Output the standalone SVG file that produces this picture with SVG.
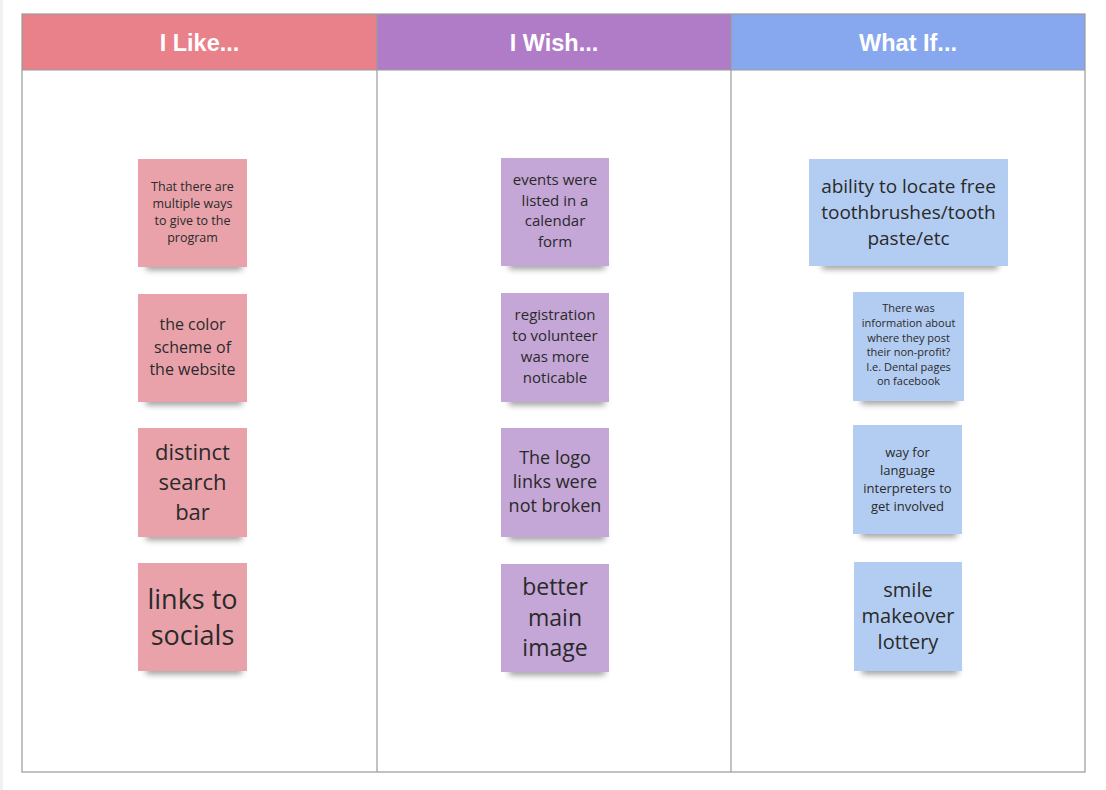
<svg xmlns="http://www.w3.org/2000/svg" width="1106" height="790" viewBox="0 0 1106 790">
  <style>
    .head { font-family: "Liberation Sans", Arial, sans-serif; font-weight: bold; font-size: 23.5px; fill: #ffffff; text-anchor: middle; }
    .note { font-family: "Open Sans", "Noto Sans", sans-serif; fill: #2a2a2a; text-anchor: middle; }
    .frame { fill: none; stroke: #9a9a9a; stroke-width: 1.2; }
    .pink { fill: #e9a2aa; }
    .purple { fill: #c4a6d7; }
    .blue { fill: #b3cdf2; }
    .shadow { fill: #000000; opacity: 0.4; filter: url(#blur); }
  </style>
  <defs>
    <filter id="blur" x="-20%" y="-100%" width="140%" height="300%">
      <feGaussianBlur stdDeviation="3"/>
    </filter>
  </defs>

  <rect x="0" y="0" width="1106" height="790" fill="#ffffff"/>
  <rect x="0" y="0" width="3" height="790" fill="#f1f1f1"/>

  <!-- column headers -->
  <g id="headers">
    <rect x="22" y="14" width="355" height="56" fill="#e9818b"/>
    <rect x="377" y="14" width="354" height="56" fill="#b07cc7"/>
    <rect x="731" y="14" width="354" height="56" fill="#87a8ee"/>
    <text class="head" x="199.5" y="51">I Like...</text>
    <text class="head" x="554" y="51">I Wish...</text>
    <text class="head" x="908" y="51">What If...</text>
  </g>

  <!-- board frame -->
  <g id="board">
    <rect class="frame" x="22" y="14" width="1063" height="758"/>
    <line class="frame" x1="22" y1="70" x2="1085" y2="70"/>
    <line class="frame" x1="377" y1="14" x2="377" y2="772"/>
    <line class="frame" x1="731" y1="14" x2="731" y2="772"/>
  </g>

  <!-- I Like column -->
  <g id="like-1" class="note" font-size="12.5">
    <rect class="shadow" x="146" y="262" width="96" height="8"/>
    <rect class="pink" x="138" y="159" width="109" height="108"/>
    <text x="192.5" y="190.5">That there are</text>
    <text x="192.5" y="207.5">multiple ways</text>
    <text x="192.5" y="224.5">to give to the</text>
    <text x="192.5" y="242">program</text>
  </g>
  <g id="like-2" class="note" font-size="16">
    <rect class="shadow" x="146" y="397" width="96" height="8"/>
    <rect class="pink" x="138" y="294" width="109" height="108"/>
    <text x="192.5" y="329.5">the color</text>
    <text x="192.5" y="352.5">scheme of</text>
    <text x="192.5" y="374.5">the website</text>
  </g>
  <g id="like-3" class="note" font-size="22">
    <rect class="shadow" x="146" y="532" width="96" height="8"/>
    <rect class="pink" x="138" y="428" width="109" height="109"/>
    <text x="192.5" y="459.5">distinct</text>
    <text x="192.5" y="489.5">search</text>
    <text x="192.5" y="519.5">bar</text>
  </g>
  <g id="like-4" class="note" font-size="27">
    <rect class="shadow" x="146" y="666" width="96" height="8"/>
    <rect class="pink" x="138" y="563" width="109" height="108"/>
    <text x="192.5" y="608.5">links to</text>
    <text x="192.5" y="644.5">socials</text>
  </g>

  <!-- I Wish column -->
  <g id="wish-1" class="note" font-size="15">
    <rect class="shadow" x="509" y="261" width="96" height="8"/>
    <rect class="purple" x="501" y="158" width="108" height="108"/>
    <text x="555" y="185">events were</text>
    <text x="555" y="205.5">listed in a</text>
    <text x="555" y="226">calendar</text>
    <text x="555" y="247">form</text>
  </g>
  <g id="wish-2" class="note" font-size="15">
    <rect class="shadow" x="509" y="397" width="96" height="8"/>
    <rect class="purple" x="501" y="293" width="108" height="109"/>
    <text x="555" y="320">registration</text>
    <text x="555" y="341">to volunteer</text>
    <text x="555" y="362">was more</text>
    <text x="555" y="383">noticable</text>
  </g>
  <g id="wish-3" class="note" font-size="18">
    <rect class="shadow" x="509" y="532" width="96" height="8"/>
    <rect class="purple" x="501" y="428" width="108" height="109"/>
    <text x="555" y="464">The logo</text>
    <text x="555" y="488">links were</text>
    <text x="555" y="512">not broken</text>
  </g>
  <g id="wish-4" class="note" font-size="23">
    <rect class="shadow" x="509" y="667" width="96" height="8"/>
    <rect class="purple" x="501" y="564" width="108" height="108"/>
    <text x="555" y="595">better</text>
    <text x="555" y="626">main</text>
    <text x="555" y="656">image</text>
  </g>

  <!-- What If column -->
  <g id="whatif-1" class="note" font-size="19">
    <rect class="shadow" x="822" y="261" width="176" height="8"/>
    <rect class="blue" x="809" y="159" width="199" height="107"/>
    <text x="908.5" y="192.5">ability to locate free</text>
    <text x="908.5" y="218.5">toothbrushes/tooth</text>
    <text x="908.5" y="244.5">paste/etc</text>
  </g>
  <g id="whatif-2" class="note" font-size="11">
    <rect class="shadow" x="861" y="396" width="96" height="8"/>
    <rect class="blue" x="853" y="292" width="111" height="109"/>
    <text x="908.5" y="312">There was</text>
    <text x="908.5" y="327">information about</text>
    <text x="908.5" y="342">where they post</text>
    <text x="908.5" y="356">their non-profit?</text>
    <text x="908.5" y="371">I.e. Dental pages</text>
    <text x="908.5" y="385">on facebook</text>
  </g>
  <g id="whatif-3" class="note" font-size="13">
    <rect class="shadow" x="861" y="529" width="96" height="8"/>
    <rect class="blue" x="853" y="425" width="109" height="109"/>
    <text x="907.5" y="456.5">way for</text>
    <text x="907.5" y="474.5">language</text>
    <text x="907.5" y="492.5">interpreters to</text>
    <text x="907.5" y="510.5">get involved</text>
  </g>
  <g id="whatif-4" class="note" font-size="20">
    <rect class="shadow" x="862" y="666" width="96" height="8"/>
    <rect class="blue" x="854" y="562" width="108" height="109"/>
    <text x="908" y="597">smile</text>
    <text x="908" y="623">makeover</text>
    <text x="908" y="649">lottery</text>
  </g>
</svg>
